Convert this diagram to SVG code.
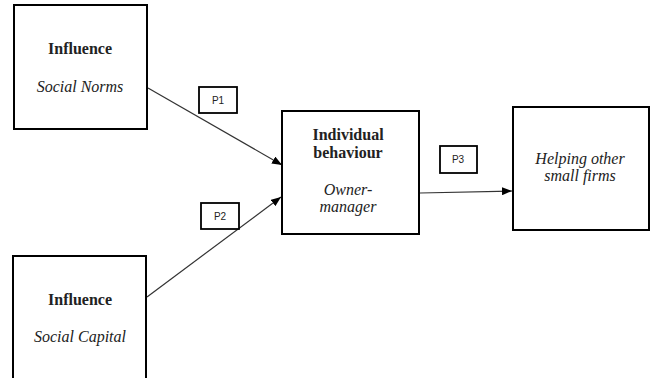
<svg xmlns="http://www.w3.org/2000/svg" width="655" height="378" viewBox="0 0 655 378">
<style>
.box{fill:#fff;stroke:#000;stroke-width:2}
.pbox{fill:#fff;stroke:#000;stroke-width:1.8}
.t{font-family:"Liberation Serif",serif;font-size:16px;fill:#222;text-anchor:middle}
.b{font-weight:bold}
.i{font-style:italic}
.p{font-family:"Liberation Sans",Arial,sans-serif;font-size:10px;fill:#222;text-anchor:middle}
.c{stroke:#333;stroke-width:1.2;fill:none;marker-end:url(#ah)}
</style>
<defs>
<marker id="ah" markerWidth="10" markerHeight="8" refX="10" refY="4" orient="auto" markerUnits="userSpaceOnUse">
<path d="M0,0 L10,4 L0,8 Z" fill="#000"/>
</marker>
</defs>
<g id="connectors">
<line class="c" x1="148" y1="88" x2="282" y2="165"/>
<line class="c" x1="147" y1="297" x2="281" y2="197"/>
<line class="c" x1="420" y1="193" x2="512" y2="191"/>
</g>
<g id="n1">
<rect class="box" x="14" y="5" width="133" height="124"/>
<text class="t b" x="80" y="54">Influence</text>
<text class="t i" x="80" y="92">Social Norms</text>
</g>
<g id="n2">
<rect class="box" x="13" y="256" width="133" height="130"/>
<text class="t b" x="80" y="305">Influence</text>
<text class="t i" x="80" y="342">Social Capital</text>
</g>
<g id="n3">
<rect class="box" x="282" y="111" width="137" height="123"/>
<text class="t b" x="348" y="140">Individual</text>
<text class="t b" x="348" y="158">behaviour</text>
<text class="t i" x="348" y="195">Owner-</text>
<text class="t i" x="348" y="212">manager</text>
</g>
<g id="n4">
<rect class="box" x="513" y="107" width="136" height="123"/>
<text class="t i" x="580" y="164">Helping other</text>
<text class="t i" x="580" y="181">small firms</text>
</g>
<g id="p1">
<rect class="pbox" x="199" y="87" width="38" height="26"/>
<text class="p" x="218" y="104">P1</text>
</g>
<g id="p2">
<rect class="pbox" x="201" y="203" width="38" height="26"/>
<text class="p" x="220" y="220">P2</text>
</g>
<g id="p3">
<rect class="pbox" x="440" y="146" width="37" height="27"/>
<text class="p" x="458" y="163">P3</text>
</g>
</svg>
